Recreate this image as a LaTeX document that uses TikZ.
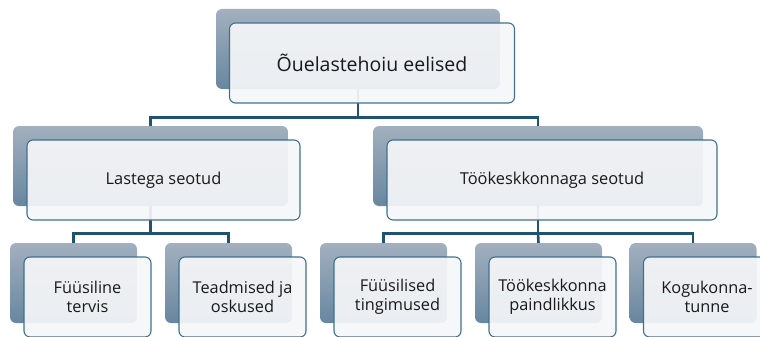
\documentclass[tikz,border=0pt]{standalone}
\usepackage{fontspec}
\setmainfont{Open Sans}
\usepackage{tikz}
\usetikzlibrary{positioning}
\definecolor{linecolor}{RGB}{31,84,112}
\definecolor{backtop}{RGB}{162,176,190}
\definecolor{backbottom}{RGB}{104,134,160}
\definecolor{framecolor}{RGB}{62,113,146}
\definecolor{frontcolor}{RGB}{245,246,248}

\begin{document}
\begin{tikzpicture}[
    x=1pt, y=-1pt,
    back/.style={rounded corners=6pt, top color=backtop, bottom color=backbottom, minimum height=80pt, inner sep=0pt},
    front/.style={draw=framecolor, line width=1.1pt, rounded corners=6pt, fill=frontcolor, fill opacity=0.93, text opacity=1, minimum height=80pt, align=center, text=black!90},
    link/.style={draw=linecolor, line width=2.6pt},
    toptext/.style={font=\fontsize{19.5}{23}\selectfont},
    midtext/.style={font=\fontsize{16.4}{20}\selectfont},
    leaftext/.style={font=\fontsize{16.3}{19.5}\selectfont}
]
    \useasboundingbox (0,0) rectangle (760,337);

    % Back boxes
    \node[back, minimum width=284pt] (b0) at (358,49) {};
    \node[back, minimum width=275pt] (b1) at (150.5,166) {};
    \node[back, minimum width=330pt] (b2) at (538,166) {};
    \node[back, minimum width=127pt] (b3) at (73.5,283) {};
    \node[back, minimum width=127pt] (b4) at (228.5,283) {};
    \node[back, minimum width=127pt] (b5) at (383.5,283) {};
    \node[back, minimum width=127pt] (b6) at (538.5,283) {};
    \node[back, minimum width=127pt] (b7) at (693,283) {};

    % Connectors
    \draw[link] (b0.south) -- ++(0,28) coordinate (j0) -| (b1.north);
    \draw[link] (j0) -| (b2.north);
    \draw[link] (b1.south) -- ++(0,27) coordinate (j1) -| (b3.north);
    \draw[link] (j1) -| (b4.north);
    \draw[link] (b2.south) -- ++(0,27) coordinate (j2) -| (b5.north);
    \draw[link] (j2) -- (b6.north);
    \draw[link] (j2) -| (b7.north);

    % Front boxes
    \node[front, toptext, minimum width=285pt] (f0) at ([shift={(14,14)}]b0) {Õuelastehoiu eelised};
    \node[front, midtext, minimum width=273pt] (f1) at ([shift={(13,14)}]b1) {Lastega seotud};
    \node[front, midtext, minimum width=330pt] (f2) at ([shift={(14,14)}]b2) {Töökeskkonnaga seotud};
    \node[front, leaftext, minimum width=127pt] (f3) at ([shift={(14,14)}]b3) {Füüsiline\\tervis};
    \node[front, leaftext, minimum width=127pt] (f4) at ([shift={(14,14)}]b4) {Teadmised ja\\oskused};
    \node[front, leaftext, minimum width=127pt] (f5) at ([shift={(14,14)}]b5) {Füüsilised\\tingimused};
    \node[front, leaftext, minimum width=127pt] (f6) at ([shift={(14,14)}]b6) {Töökeskkonna\\paindlikkus};
    \node[front, leaftext, minimum width=127pt] (f7) at ([shift={(14,14)}]b7) {Kogukonna-\\tunne};
\end{tikzpicture}
\end{document}
